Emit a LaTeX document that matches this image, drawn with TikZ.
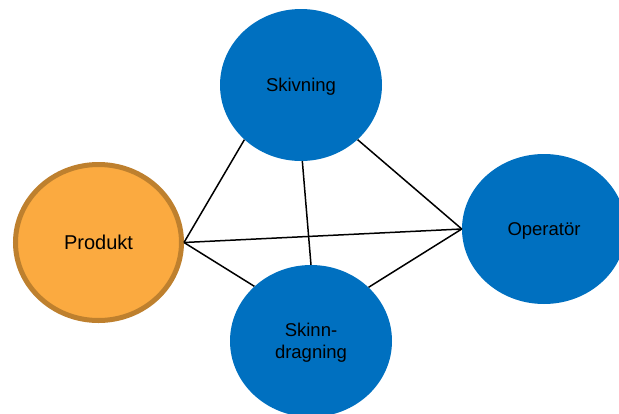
\documentclass[tikz,border=0pt]{standalone}
\usepackage{fontspec}
\setmainfont{Liberation Sans}
\usetikzlibrary{shapes.geometric}
\definecolor{nodeblue}{RGB}{0,112,192}
\definecolor{prodfill}{RGB}{251,170,64}
\definecolor{prodline}{RGB}{190,128,46}
\tikzset{
  bubble/.style={ellipse, fill=nodeblue, draw=none, inner sep=0pt,
    minimum width=162pt, minimum height=152pt, align=center, text depth=0pt,
    font=\fontsize{18.5}{21.6}\selectfont},
  prodbubble/.style={ellipse, fill=prodfill, draw=prodline, line width=5pt, inner sep=0pt,
    minimum width=166pt, minimum height=156pt, text depth=0pt,
    font=\fontsize{20}{24}\selectfont},
  link/.style={draw=black, line width=1.5pt}
}
\begin{document}
\begin{tikzpicture}[x=1pt,y=-1pt]
\useasboundingbox (0,0) rectangle (619,413);
\clip (0,0) rectangle (619,413);
\node[bubble] (skiv) at (301,85) {Skivning};
\node[prodbubble] (prod) at (98.5,242.5) {Produkt};
\node[bubble, minimum width=164pt, minimum height=150pt] (oper) at (544,229) {Operatör};
\node[bubble] (skinn) at (311,341) {Skinn-\\dragning};
\draw[link] (skiv.224) -- (prod.east);
\draw[link] (skiv.271) -- (skinn.90);
\draw[link] (skiv.316.5) -- (oper.west);
\draw[link] (prod.east) -- (oper.west);
\draw[link] (prod.east) -- (skinn.136.5);
\draw[link] (skinn.43.5) -- (oper.west);
\end{tikzpicture}
\end{document}
